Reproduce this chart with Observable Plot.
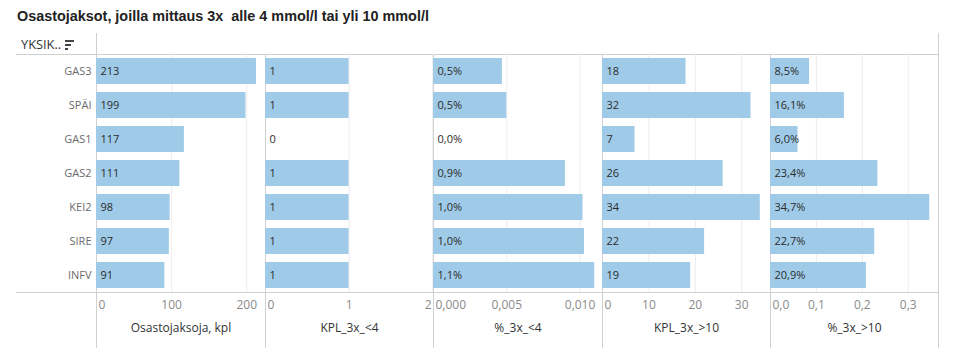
<!DOCTYPE html>
<html><head><meta charset="utf-8">
<script src="https://cdn.jsdelivr.net/npm/d3@7"></script>
<script src="https://cdn.jsdelivr.net/npm/@observablehq/plot@0.6"></script>
<style>
body{margin:0;background:#fff;font-family:"Open Sans",sans-serif;}
#root{position:relative;width:955px;height:354px;overflow:hidden;background:#fff}
#title{position:absolute;left:17px;top:8px;font:bold 14.4px "Liberation Sans",Arial,sans-serif;color:#222;white-space:pre}
#hdr{position:absolute;left:21px;top:35px;font-size:12.8px;color:#333}
.hl{position:absolute;height:1px;background:#d0d0d0}
.vl{position:absolute;width:1px;background:#d0d0d0}
.si{position:absolute;height:2px;background:#444}
.panel{position:absolute;top:0}
</style></head><body>
<div id="root">
  <div id="title">Osastojaksot, joilla mittaus 3x  alle 4 mmol/l tai yli 10 mmol/l</div>
  <div id="hdr">YKSIK..</div>
  <div class="si" style="left:65px;top:40px;width:9px"></div>
  <div class="si" style="left:65px;top:44px;width:6px"></div>
  <div class="si" style="left:65px;top:48px;width:3px"></div>
</div>
<script>
// ---- data ----
const units = ["GAS3","SPÄI","GAS1","GAS2","KEI2","SIRE","INFV"];
const osastojaksoja = [213,199,117,111,98,97,91];
const kpl3xAlle4 = [1,1,0,1,1,1,1];
const pct3xAlle4 = [0.0047,0.0050,0,0.0090,0.0102,0.0103,0.0110];
const kpl3xYli10 = [18,32,7,26,34,22,19];
const pct3xYli10 = [0.085,0.161,0.060,0.234,0.347,0.227,0.209];
const measureTitles = ["Osastojaksoja, kpl","KPL_3x_<4","%_3x_<4","KPL_3x_>10","%_3x_>10"];
const tickValues = [[0,100,200],[0,1,2],[0,0.005,0.010],[0,10,20,30],[0,0.1,0.2,0.3]];
const tickLabels = [["0","100","200"],["0","1","2"],["0,000","0,005","0,010"],["0","10","20","30"],["0,0","0,1","0,2","0,3"]];

// ---- layout ----
const edges = [96, 265, 433, 602, 770, 938];
const domainMax = [225, 2.01, 0.01153, 36.2, 0.366];
const series = [osastojaksoja, kpl3xAlle4, pct3xAlle4, kpl3xYli10, pct3xYli10];
const isPct = [false,false,true,false,true];
const fmtPct = v => (v*100).toFixed(1).replace(".", ",") + "%";

const root = document.getElementById("root");
function line(cls, style){ const d=document.createElement("div"); d.className=cls; d.setAttribute("style",style); root.appendChild(d); }
// table frame lines
line("hl","left:16px;top:54px;width:923px");
line("hl","left:16px;top:292px;width:923px");
line("vl","left:96px;top:33px;height:315px");
line("vl","left:938px;top:33px;height:315px");
for (let k=1;k<5;k++) line("vl",`left:${edges[k]}px;top:54px;height:294px`);

for (let k=0;k<5;k++){
  const rows = units.map((u,i)=>({unit:u, v:series[k][i], label: isPct[k] ? fmtPct(series[k][i]) : String(series[k][i])}));
  const ticks = tickValues[k].map((t,i)=>({t, label: tickLabels[k][i]}));
  const first = ticks.slice(0,1);
  const last = ticks[ticks.length-1];
  const lastAtEdge = last.t/domainMax[k] > 0.97;
  const mid = ticks.slice(1, lastAtEdge ? -1 : undefined);
  const ml = k===0 ? 80 : 0;
  const w = edges[k+1]-edges[k] + ml;
  const marks = [
    Plot.ruleX(ticks.slice(1), {x:"t", stroke:"#ededed"}),
    Plot.barX(rows, {x:"v", y:"unit", fill:"#a0cbe8"}),
    Plot.text(rows, {x:0, y:"unit", text:"label", textAnchor:"start", dx:4, fill:"#2b2b2b", fontSize:11}),
    Plot.text(first, {x:"t", text:"label", frameAnchor:"bottom", dy:16, textAnchor:"start", dx:2, fill:"#8a8a8a", fontSize:12}),
    Plot.text(mid, {x:"t", text:"label", frameAnchor:"bottom", dy:16, textAnchor:"middle", fill:"#8a8a8a", fontSize:12}),
    Plot.text([measureTitles[k]], {x:domainMax[k]/2, text:d=>d, frameAnchor:"bottom", dy:39, fill:"#333", fontSize:12})
  ];
  if (lastAtEdge) marks.push(Plot.text([last], {x:"t", text:"label", frameAnchor:"bottom", dy:16, textAnchor:"end", dx:-1, fill:"#8a8a8a", fontSize:12}));
  if (k===0) marks.push(Plot.text(units, {x:0, y:d=>d, text:d=>d, textAnchor:"end", dx:-5, fill:"#6b6b6b", fontSize:11}));
  const p = Plot.plot({
    width:w, height:354, marginLeft:ml, marginRight:0, marginTop:54, marginBottom:62,
    style:{fontFamily:"'Open Sans', sans-serif", background:"transparent", overflow:"visible"},
    x:{domain:[0,domainMax[k]], axis:null},
    y:{domain:units, axis:null, paddingInner:0.244, paddingOuter:0.122},
    marks
  });
  p.classList.add("panel");
  p.style.left = (edges[k]-ml) + "px";
  root.appendChild(p);
}
</script>
</body></html>
